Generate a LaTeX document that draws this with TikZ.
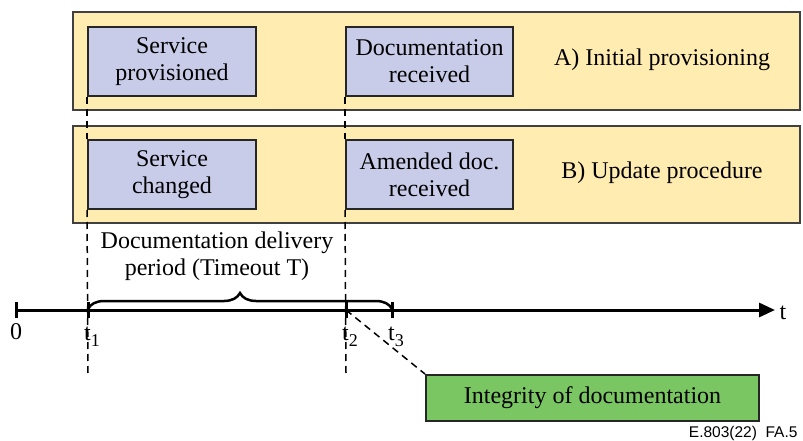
\documentclass[tikz,border=0pt]{standalone}
\usepackage{fontspec}
\setmainfont{Liberation Serif}
\newfontfamily\codefont{Liberation Sans}
\usetikzlibrary{arrows.meta,decorations.pathreplacing}
\definecolor{bandyellow}{RGB}{255,236,176}
\definecolor{boxblue}{RGB}{200,204,233}
\definecolor{boxgreen}{RGB}{122,198,98}
\newcommand{\tsub}[1]{t\raisebox{-6pt}{\fontsize{18}{18}\selectfont #1}}

\begin{document}
\begin{tikzpicture}[x=1pt,y=-1pt,font=\fontsize{24}{27}\selectfont,
    band/.style={draw=black!75,line width=1.5pt,fill=bandyellow,minimum width=727pt,inner sep=0pt},
    event/.style={draw=black!85,line width=2pt,fill=boxblue,minimum width=168pt,minimum height=69pt,align=center,inner sep=0pt},
    guide/.style={line width=1.5pt,dash pattern=on 7pt off 5pt},
    tickmark/.style={line width=3pt}]
    \useasboundingbox (0,0) rectangle (803,441);
    \node[band,minimum height=98pt] (bandA) at (436.5,61) {};
    \node[band,minimum height=97pt] (bandB) at (436.5,174.5) {};
    \node[event] (servprov) at (172,61.5) {Service\\provisioned};
    \node[event,minimum width=167pt] (docrec) at (429.5,61.5) {Documentation\\received};
    \node[event] (servchg) at (172,174.5) {Service\\changed};
    \node[event,minimum width=167pt] (amdrec) at (429.5,174.5) {Amended doc.\\received};
    \node (procA) at (662,60) {A) Initial provisioning};
    \node (procB) at (662,173) {B) Update procedure};
    \coordinate (o) at (16,310);
    \coordinate (t1) at (88,310);
    \coordinate (t2) at (346,310);
    \coordinate (t3) at (392,310);
    \coordinate (tend) at (775,310);
    \coordinate (g1) at (88,373);
    \coordinate (g2) at (346,373);
    \draw[guide] (servprov.south west) -- (servchg.north west);
    \draw[guide] (docrec.south west) -- (amdrec.north west);
    \draw[guide] (servchg.south west) -- (g1);
    \draw[guide] (amdrec.south west) -- (g2);
    \draw[line width=3pt,-{Triangle[length=16pt,width=14pt]}] (o) -- (tend);
    \foreach \p in {o,t1,t2,t3}
        \draw[tickmark] ([yshift=-8pt]\p) -- ([yshift=8pt]\p);
    \draw[line width=2.5pt,decorate,decoration={brace,amplitude=16pt,raise=1pt}] (t1) -- (t3);
    \node[align=center] (period) at (217,256) {Documentation delivery\\period (Timeout T)};
    \node[anchor=base] (l0) at (16,339) {0};
    \node[anchor=base] (l1) at (92,340) {\tsub{1}};
    \node[anchor=base] (l2) at (350,340) {\tsub{2}};
    \node[anchor=base] (l3) at (396,340) {\tsub{3}};
    \node[anchor=base] (lt) at (783,319) {t};
    \node[draw=black!85,line width=2pt,fill=boxgreen,minimum width=333pt,minimum height=46pt,inner sep=0pt] (integ) at (592.5,398) {Integrity of documentation};
    \draw[guide] (t2) -- (integ.north west);
    \node[anchor=base east,font=\codefont\fontsize{15.5}{18}\selectfont] (code) at (801,437) {E.803(22)\ \ FA.5};
\end{tikzpicture}
\end{document}
